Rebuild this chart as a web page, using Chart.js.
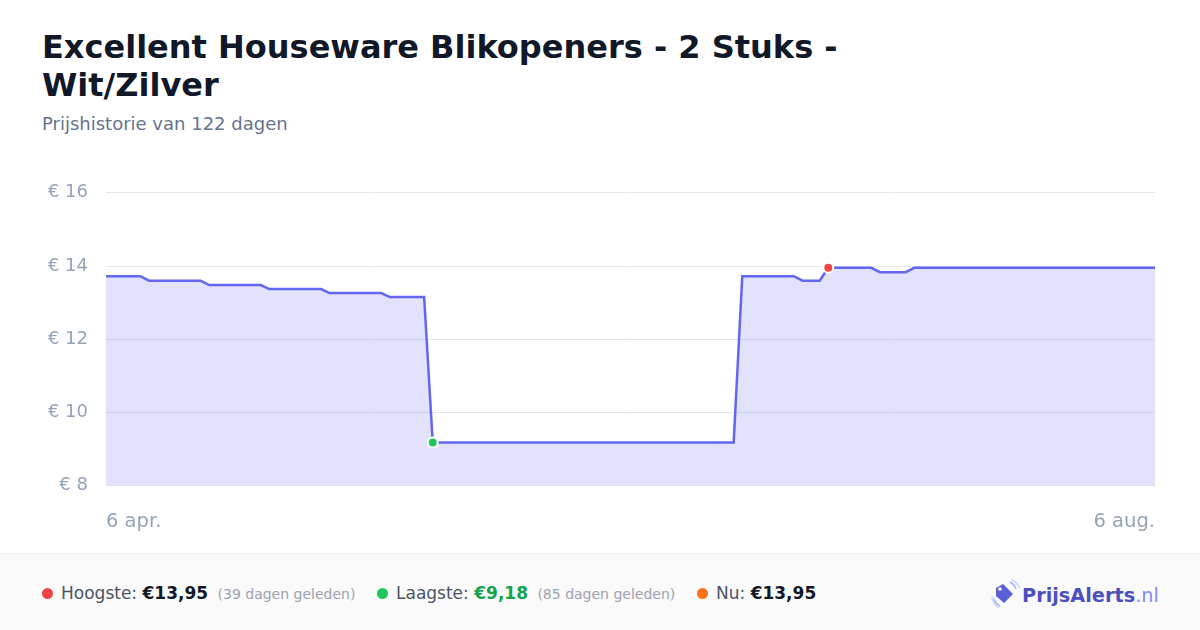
<!DOCTYPE html>
<html>
<head>
<meta charset="utf-8">
<script src="https://cdn.jsdelivr.net/npm/chart.js@4.4.1/dist/chart.umd.min.js"></script>
<style>
  html, body { margin: 0; padding: 0; }
  body { width: 1200px; height: 630px; background: #fff; font-family: "DejaVu Sans", sans-serif; position: relative; overflow: hidden; }
  h1 { position: absolute; left: 42px; top: 28px; margin: 0; font-size: 32px; line-height: 38px; font-weight: bold; color: #111827; }
  .sub { position: absolute; left: 42px; top: 113px; font-size: 18px; color: #64748b; }
  #wrap { position: absolute; left: 30px; top: 164px; width: 1142px; height: 387px; }
  .footer { position: absolute; left: 0; top: 553px; width: 1200px; height: 77px; background: #fafafa; border-top: 1px solid #f0f0f0; }
  .item { position: absolute; top: 29px; font-size: 17px; color: #4b5563; white-space: nowrap; }
  .dot { display: inline-block; width: 11px; height: 11px; border-radius: 50%; margin-right: 8px; vertical-align: 0px; }
  .val { font-weight: bold; color: #111827; }
  .ago { font-size: 14px; color: #9ca3af; margin-left: 4px; }
  .logo { position: absolute; left: 990px; top: 25px; font-size: 19.3px; font-weight: bold; color: #4c4fc0; white-space: nowrap; }
  .logo span { font-weight: normal; color: #818cf8; }
  .logo svg { vertical-align: -7px; margin-right: 2px; }
</style>
</head>
<body>
<h1>Excellent Houseware Blikopeners - 2 Stuks -<br>Wit/Zilver</h1>
<div class="sub">Prijshistorie van 122 dagen</div>
<div id="wrap"><canvas id="priceChart"></canvas></div>
<div class="footer">
  <div class="item" style="left:42px"><span class="dot" style="background:#ef4444"></span>Hoogste: <span class="val">€13,95</span> <span class="ago">(39 dagen geleden)</span></div>
  <div class="item" style="left:377px"><span class="dot" style="background:#22c55e"></span>Laagste: <span class="val" style="color:#16a34a">€9,18</span> <span class="ago">(85 dagen geleden)</span></div>
  <div class="item" style="left:697px"><span class="dot" style="background:#f97316"></span>Nu: <span class="val">€13,95</span></div>
  <div class="logo">
    <svg width="30" height="30" viewBox="0 0 30 30">
      <path d="M4 20 A12 12 0 0 0 10 27" stroke="#a5b4fc" stroke-width="1.6" fill="none"/>
      <path d="M2 17 A15 15 0 0 0 9 29" stroke="#c7d2fe" stroke-width="1.4" fill="none"/>
      <path d="M20 3 A12 12 0 0 1 26 10" stroke="#a5b4fc" stroke-width="1.6" fill="none"/>
      <path d="M21 0.5 A15 15 0 0 1 29.5 9" stroke="#c7d2fe" stroke-width="1.4" fill="none"/>
      <path d="M13 5 L23 15 L14 24 L6 17 L6 9 Z" fill="#5b5fd6"/>
      <circle cx="10" cy="10" r="1.8" fill="#fff"/>
    </svg>PrijsAlerts<span>.nl</span>
  </div>
</div>
<script>
// 123 daily points, 6 apr. .. 6 aug.
const startLabel = '6 apr.';
const endLabel = '6 aug.';
const prices = [
  13.72, 13.72, 13.72, 13.72, 13.72, 13.60, 13.60, 13.60, 13.60, 13.60,
  13.60, 13.60, 13.48, 13.48, 13.48, 13.48, 13.48, 13.48, 13.48, 13.37,
  13.37, 13.37, 13.37, 13.37, 13.37, 13.37, 13.26, 13.26, 13.26, 13.26,
  13.26, 13.26, 13.26, 13.15, 13.15, 13.15, 13.15, 13.15, 9.18, 9.18,
  9.18, 9.18, 9.18, 9.18, 9.18, 9.18, 9.18, 9.18, 9.18, 9.18,
  9.18, 9.18, 9.18, 9.18, 9.18, 9.18, 9.18, 9.18, 9.18, 9.18,
  9.18, 9.18, 9.18, 9.18, 9.18, 9.18, 9.18, 9.18, 9.18, 9.18,
  9.18, 9.18, 9.18, 9.18, 13.72, 13.72, 13.72, 13.72, 13.72, 13.72,
  13.72, 13.60, 13.60, 13.60, 13.95, 13.95, 13.95, 13.95, 13.95, 13.95,
  13.83, 13.83, 13.83, 13.83, 13.95, 13.95, 13.95, 13.95, 13.95, 13.95,
  13.95, 13.95, 13.95, 13.95, 13.95, 13.95, 13.95, 13.95, 13.95, 13.95,
  13.95, 13.95, 13.95, 13.95, 13.95, 13.95, 13.95, 13.95, 13.95, 13.95,
  13.95, 13.95, 13.95
];
const yTicks = [8, 10, 12, 14, 16];
const highIndex = 84;
const lowIndex = 38;

const labels = prices.map((p, i) => i === 0 ? startLabel : (i === prices.length - 1 ? endLabel : ''));

const ctx = document.getElementById('priceChart').getContext('2d');
new Chart(ctx, {
  type: 'line',
  data: {
    labels: labels,
    datasets: [{
      data: prices,
      borderColor: '#6366f1',
      borderWidth: 2.5,
      backgroundColor: 'rgba(99,102,241,0.19)',
      fill: 'start',
      tension: 0,
      pointRadius: c => (c.dataIndex === highIndex || c.dataIndex === lowIndex) ? 5 : 0,
      pointBackgroundColor: c => c.dataIndex === highIndex ? '#ef4444' : '#22c55e',
      pointBorderColor: '#ffffff',
      pointBorderWidth: 2
    }]
  },
  options: {
    responsive: true,
    maintainAspectRatio: false,
    animation: false,
    layout: { padding: 0 },
    plugins: { legend: { display: false }, tooltip: { enabled: false } },
    scales: {
      x: {
        grid: { display: false },
        border: { display: false },
        ticks: {
          autoSkip: false,
          maxRotation: 0,
          align: 'inner',
          padding: 17,
          color: '#94a3b8',
          font: { family: 'DejaVu Sans', size: 19.5 }
        }
      },
      y: {
        min: 8,
        max: 16,
        afterFit: s => { s.width = 76; },
        afterBuildTicks: s => { s.ticks = yTicks.map(v => ({ value: v })); },
        grid: { color: '#e5e7eb', drawTicks: false },
        border: { display: false },
        ticks: {
          padding: 18,
          color: '#94a3b8',
          font: { family: 'DejaVu Sans', size: 18 },
          callback: v => '€ ' + v
        }
      }
    }
  }
});
</script>
</body>
</html>
